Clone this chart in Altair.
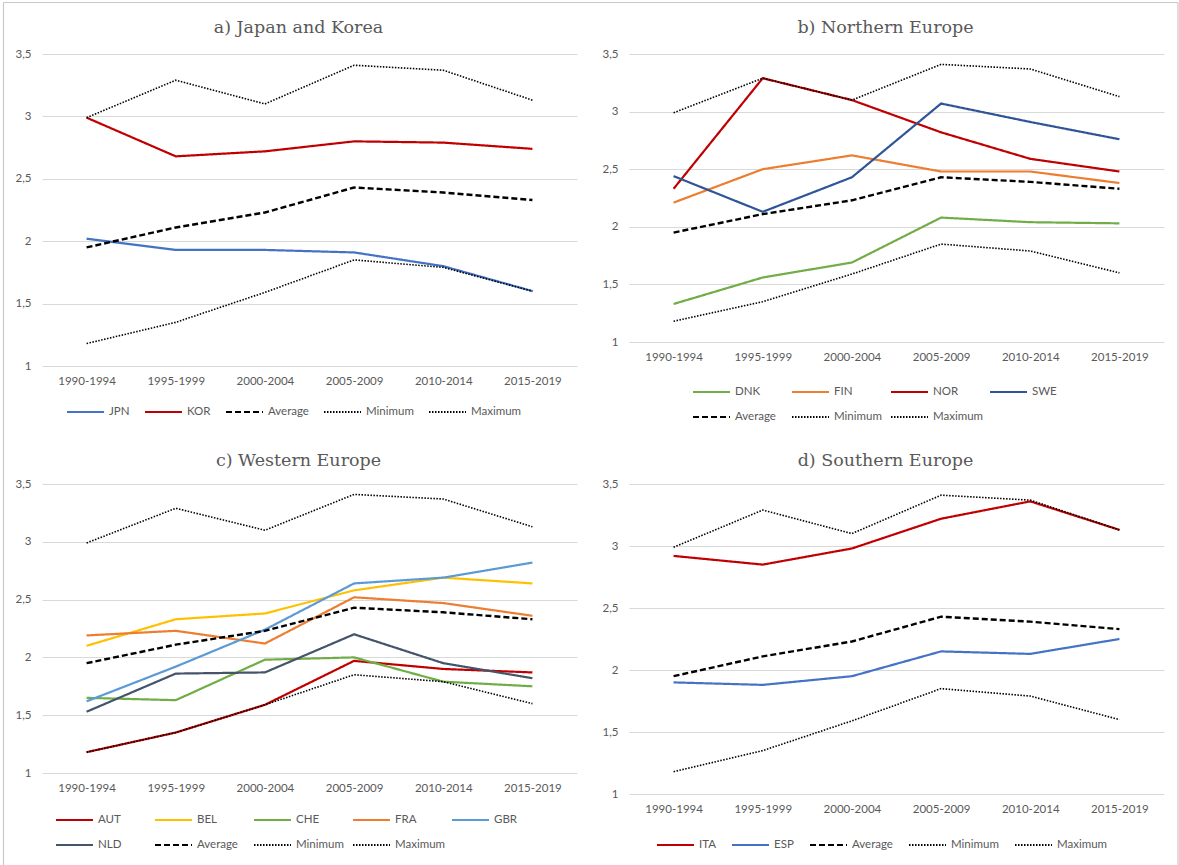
import altair as alt
import pandas as pd

periods = ["1990-1994", "1995-1999", "2000-2004", "2005-2009", "2010-2014", "2015-2019"]

average = [1.95, 2.11, 2.23, 2.43, 2.39, 2.33]
minimum = [1.18, 1.35, 1.59, 1.85, 1.79, 1.60]
maximum = [2.99, 3.29, 3.10, 3.41, 3.37, 3.13]

jpn = [2.02, 1.93, 1.93, 1.91, 1.80, 1.60]
kor = [2.99, 2.68, 2.72, 2.80, 2.79, 2.74]

dnk = [1.33, 1.56, 1.69, 2.08, 2.04, 2.03]
fin = [2.21, 2.50, 2.62, 2.48, 2.48, 2.38]
nor = [2.33, 3.29, 3.10, 2.82, 2.59, 2.48]
swe = [2.44, 2.13, 2.43, 3.07, 2.91, 2.76]

aut = [1.18, 1.35, 1.59, 1.97, 1.90, 1.87]
bel = [2.10, 2.33, 2.38, 2.58, 2.69, 2.64]
che = [1.65, 1.63, 1.98, 2.00, 1.79, 1.75]
fra = [2.19, 2.23, 2.12, 2.52, 2.47, 2.36]
gbr = [1.62, 1.92, 2.24, 2.64, 2.69, 2.82]
nld = [1.53, 1.86, 1.87, 2.20, 1.95, 1.82]

ita = [2.92, 2.85, 2.98, 3.22, 3.36, 3.13]
esp = [1.90, 1.88, 1.95, 2.15, 2.13, 2.25]

y_ticks = [1, 1.5, 2, 2.5, 3, 3.5]
ref_names = ["Average", "Minimum", "Maximum"]

GRAY = "#595959"
FRAME = "#c8c8c8"
LABEL_FONT = "Lato"


def panel(title, names, colors, values, w, h, columns, grid_align, col_pad, lx, ly,
          frame=None, title_offset=-5):
    series = names + ref_names
    vals = values + [average, minimum, maximum]
    rows = []
    for s, v in zip(series, vals):
        for p, y in zip(periods, v):
            rows.append({"period": p, "series": s, "value": y})
    df = pd.DataFrame(rows)

    color_range = colors + ["#000000"] * 3
    dash_range = [[1, 0]] * len(names) + [[6, 3], [1.5, 1.5], [1.5, 1.5]]

    legend_kw = dict(
        title=None, orient="none", legendX=lx, legendY=ly, direction="horizontal",
        columns=columns, gridAlign=grid_align, columnPadding=col_pad, rowPadding=-12,
        symbolType="stroke", symbolSize=1369, symbolStrokeWidth=2,
        labelFont=LABEL_FONT, labelFontSize=11.5, labelColor=GRAY, labelOffset=4,
        labelLimit=200,
    )

    base = alt.Chart(df).encode(
        x=alt.X("period:N", sort=periods, scale=alt.Scale(type="point", padding=0.5),
                axis=alt.Axis(title=None, labelAngle=0, domain=False, ticks=False, grid=False,
                              labelFont=LABEL_FONT, labelFontSize=11.5, labelColor=GRAY,
                              labelPadding=9)),
        y=alt.Y("value:Q", scale=alt.Scale(domain=[1, 3.5], nice=False, zero=False),
                axis=alt.Axis(title=None, values=y_ticks, domain=False, ticks=False,
                              gridColor="#d9d9d9", gridWidth=1,
                              labelExpr="replace(toString(datum.value), '.', ',')",
                              labelFont=LABEL_FONT, labelFontSize=11.5, labelColor=GRAY,
                              labelPadding=11)),
        color=alt.Color("series:N", sort=series,
                        scale=alt.Scale(domain=series, range=color_range),
                        legend=alt.Legend(**legend_kw)),
        strokeDash=alt.StrokeDash("series:N", sort=series,
                                  scale=alt.Scale(domain=series, range=dash_range),
                                  legend=alt.Legend(**legend_kw)),
    )

    countries = base.transform_filter(
        alt.FieldOneOfPredicate(field="series", oneOf=names)
    ).mark_line(strokeWidth=2.2)
    avg = base.transform_filter(alt.datum.series == "Average").mark_line(strokeWidth=2.4)
    mm = base.transform_filter(
        alt.FieldOneOfPredicate(field="series", oneOf=["Minimum", "Maximum"])
    ).mark_line(strokeWidth=1.6)

    layers = [countries, avg, mm]
    if frame:
        one = pd.DataFrame({"k": [0]})
        for f in frame:
            layers.append(alt.Chart(one).mark_rule(color=FRAME, strokeWidth=1.2).encode(**f))

    return alt.layer(*layers).properties(
        width=w, height=h,
        title=alt.TitleParams(title, font="DejaVu Serif", fontSize=17.5, color=GRAY,
                              fontWeight="normal", anchor="middle", frame="group",
                              dx=-11, offset=title_offset, baseline="alphabetic"),
    )


frame_a = [
    dict(x=alt.value(-38.5), y=alt.value(-51.5), y2=alt.value(811)),
    dict(x=alt.value(-38.5), x2=alt.value(1136), y=alt.value(-51.5)),
]
frame_b = [
    dict(x=alt.value(549), y=alt.value(-51.5), y2=alt.value(811)),
]

a = panel("a) Japan and Korea", ["JPN", "KOR"], ["#4472C4", "#C00000"], [jpn, kor],
          535, 312, 5, "none", 11, 24, 338.5, frame_a, -49)
b = panel("b) Northern Europe", ["DNK", "FIN", "NOR", "SWE"],
          ["#70AD47", "#ED7D31", "#C00000", "#2F5597"], [dnk, fin, nor, swe],
          535, 288, 4, "all", 2, 63, 318.5, frame_b, -49)
c = panel("c) Western Europe", ["AUT", "BEL", "CHE", "FRA", "GBR", "NLD"],
          ["#C00000", "#FFC000", "#70AD47", "#ED7D31", "#5B9BD5", "#44546A"],
          [aut, bel, che, fra, gbr, nld],
          535, 289, 5, "all", 2, 13, 316.5)
d = panel("d) Southern Europe", ["ITA", "ESP"], ["#C00000", "#4472C4"], [ita, esp],
          535, 310, 5, "none", 12, 27, 341.5)

res = dict(color="independent", strokeDash="independent", x="independent", y="independent")
chart = alt.concat(
    a, b, c, d, columns=2, spacing={"row": 118, "column": 52}, bounds="flush"
).resolve_scale(**res).properties(
    padding={"left": 2, "top": 1, "right": 0, "bottom": 0},
    background="white",
).configure_view(stroke=None)

chart.save("out.html", embed_options={"renderer": "svg", "actions": False})
